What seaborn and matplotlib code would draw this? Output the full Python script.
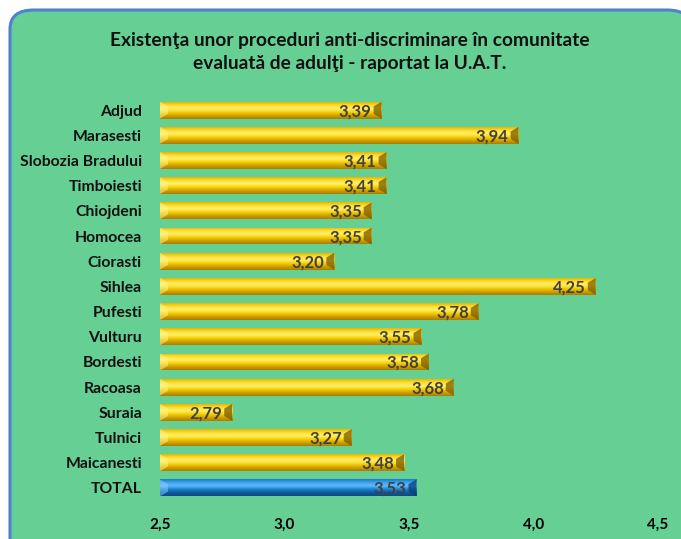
import numpy as np
import pandas as pd
import matplotlib
matplotlib.use("Agg")
import matplotlib.pyplot as plt
import seaborn as sns
from matplotlib.patches import FancyBboxPatch, Polygon
from matplotlib.colors import LinearSegmentedColormap

# data
localitati = ["Adjud", "Marasesti", "Slobozia Bradului", "Timboiesti", "Chiojdeni",
              "Homocea", "Ciorasti", "Sihlea", "Pufesti", "Vulturu", "Bordesti",
              "Racoasa", "Suraia", "Tulnici", "Maicanesti", "TOTAL"]
scoruri = [3.39, 3.94, 3.41, 3.41, 3.35, 3.35, 3.20, 4.25, 3.78, 3.55, 3.58,
           3.68, 2.79, 3.27, 3.48, 3.53]
x_ticks = [2.5, 3.0, 3.5, 4.0, 4.5]

df = pd.DataFrame({"loc": localitati, "scor": scoruri})

sns.set_style("white")
plt.rcParams["font.family"] = ["Lato", "DejaVu Sans"]

bg_green = "#66CF94"
fig = plt.figure(figsize=(6.81, 5.39), dpi=100)
fig.patch.set_facecolor("white")

# rounded green panel with blue border (runs off the right/bottom edge)
panel = FancyBboxPatch((10 / 681, -0.05), 1.0, 1 - 10 / 539 + 0.05,
                       boxstyle="round,pad=0,rounding_size=0.035",
                       transform=fig.transFigure, facecolor=bg_green,
                       edgecolor="#4F81D0", linewidth=2.2, zorder=-1)
fig.patches.append(panel)

ax = fig.add_axes([160 / 681, 1 - 503 / 539, 498 / 681, 408 / 539])
ax.set_facecolor("none")

colors = ["#E8B800"] * (len(localitati) - 1) + ["#1F7FD0"]
sns.barplot(data=df, y="loc", x="scor", hue="loc", palette=colors, legend=False,
            orient="h", width=0.67, ax=ax, linewidth=0)

gold = LinearSegmentedColormap.from_list(
    "gold", ["#E6B400", "#FFE030", "#FFF070", "#F7D000", "#D0A000", "#A87E00"])
blue = LinearSegmentedColormap.from_list(
    "blue", ["#1A78C8", "#3FA4F0", "#62BAF8", "#1C80D0", "#0E5A9A", "#0A4A80"])
grad = np.linspace(0, 1, 64).reshape(-1, 1)

ax.set_xlim(2.5, 4.5)

d = 0.032  # bevel width in data units
for i, p in enumerate(ax.patches):
    y0 = p.get_y()
    h = p.get_height()
    v = scoruri[i]
    cmap = blue if localitati[i] == "TOTAL" else gold
    im = ax.imshow(grad, cmap=cmap, aspect="auto", extent=[2.5, v, y0 + h, y0],
                   zorder=2, interpolation="bicubic")
    im.set_clip_path(p)
    inset = h * 0.28
    dark = "#0A3F70" if localitati[i] == "TOTAL" else "#7A5C00"
    light = "#8CCBFF" if localitati[i] == "TOTAL" else "#FFF59A"
    ax.add_patch(Polygon([(v - d, y0 + inset), (v, y0), (v, y0 + h), (v - d, y0 + h - inset)],
                         closed=True, facecolor=dark, edgecolor="none", alpha=0.75, zorder=3))
    ax.add_patch(Polygon([(2.5, y0), (2.5 + d, y0 + inset), (2.5 + d, y0 + h - inset), (2.5, y0 + h)],
                         closed=True, facecolor=light, edgecolor="none", alpha=0.5, zorder=3))
    ax.text(v - 0.04, i + 0.04, f"{v:.2f}".replace(".", ","), ha="right", va="center",
            fontsize=12, fontweight="bold", color="#404040", zorder=4)

ax.set_ylim(15.6, -0.6)
ax.set_xticks(x_ticks)
ax.set_xticklabels([f"{t:.1f}".replace(".", ",") for t in x_ticks],
                   fontsize=11, fontweight="bold", color="black")
ax.set_yticks(range(len(localitati)))
ax.set_yticklabels(localitati, fontsize=11.3, fontweight="bold", color="#111111")
ax.tick_params(axis="both", length=0)
ax.tick_params(axis="x", pad=11)
ax.tick_params(axis="y", pad=13)
ax.set_xlabel("")
ax.set_ylabel("")
sns.despine(ax=ax, left=True, bottom=True)

fig.text(350 / 681, 1 - 52 / 539,
         "Existenţa unor proceduri anti-discriminare în comunitate\nevaluată de adulţi - raportat la U.A.T.",
         ha="center", va="center", fontsize=13.8, fontweight="bold", color="#111111",
         linespacing=1.45)

fig.savefig("out.png", dpi=100, facecolor=fig.get_facecolor())
